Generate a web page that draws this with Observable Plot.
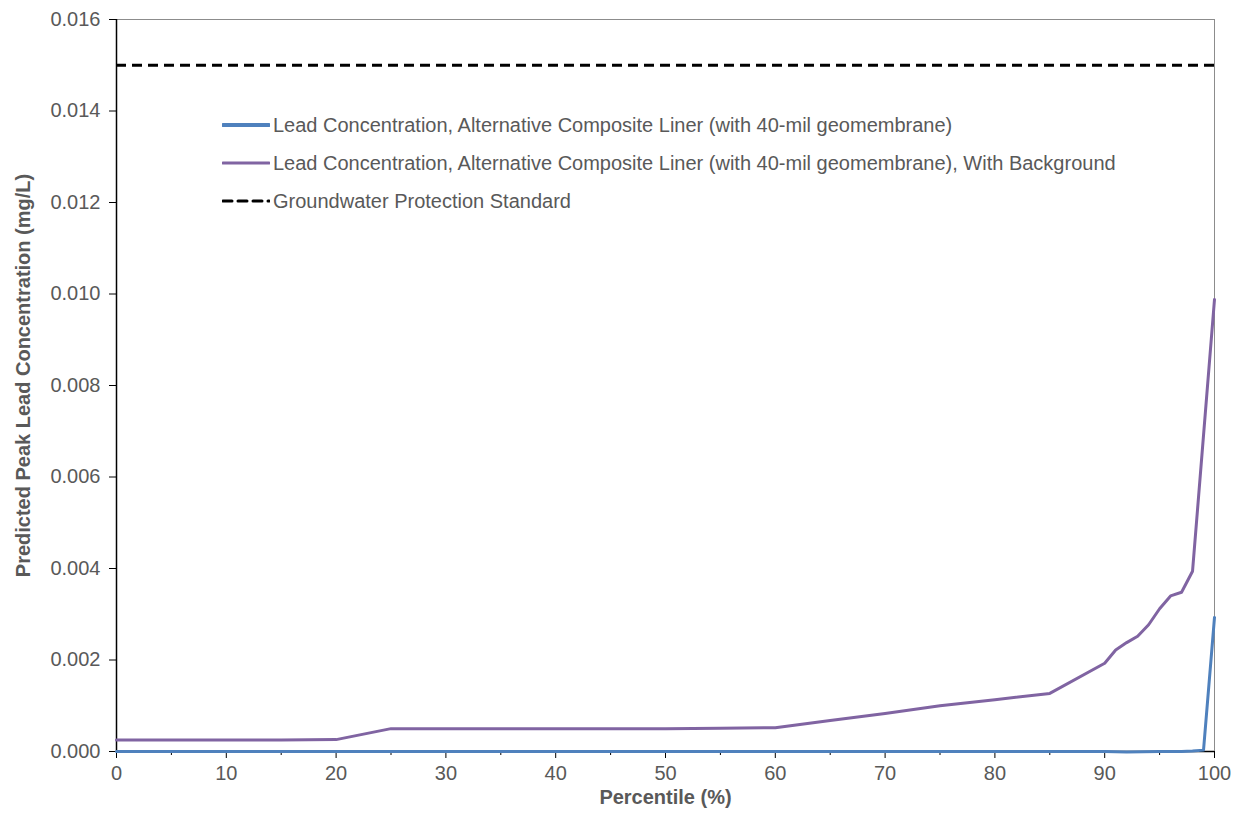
<!DOCTYPE html>
<html>
<head>
<meta charset="utf-8">
<script src="https://cdn.jsdelivr.net/npm/d3@7"></script>
<script src="https://cdn.jsdelivr.net/npm/@observablehq/plot@0.6"></script>
<style>
  html, body { margin: 0; padding: 0; background: #fff; }
  #wrap { position: relative; width: 1239px; height: 815px; font-family: "Liberation Sans", Arial, sans-serif; }
  #legend { position: absolute; left: 222px; top: 106px; color: #595959; font-size: 20px; }
  .row { display: flex; align-items: center; height: 38px; }
  .row svg { margin-right: 3px; }
</style>
</head>
<body>
<div id="wrap"></div>
<script>
// Data
const seriesBlueName = "Lead Concentration, Alternative Composite Liner (with 40-mil geomembrane)";
const seriesPurpleName = "Lead Concentration, Alternative Composite Liner (with 40-mil geomembrane), With Background";
const standardName = "Groundwater Protection Standard";

const bluePercentile = [0, 10, 20, 30, 40, 50, 60, 70, 80, 90, 92, 95, 97, 98, 99, 100];
const blueValue      = [0, 0, 0, 0, 0, 0, 0, 0, 0, 0, -0.00001, 0, 0, 0.00001, 0.00003, 0.00293];

const purplePercentile = [0, 5, 10, 15, 20, 25, 30, 35, 40, 45, 50, 55, 60, 65, 70, 75, 80, 85, 90, 91, 92, 93, 94, 95, 96, 97, 98, 100];
const purpleValue      = [0.00025, 0.00025, 0.00025, 0.00025, 0.00026, 0.00050, 0.00050, 0.00050, 0.00050, 0.00050, 0.00050, 0.00051, 0.00052, 0.00068, 0.00083, 0.00100, 0.00113, 0.00127, 0.00193, 0.00222, 0.00238, 0.00252, 0.00277, 0.00312, 0.00340, 0.00348, 0.00394, 0.00988];

const standardValue = 0.015;

const yTicks = [0, 0.002, 0.004, 0.006, 0.008, 0.010, 0.012, 0.014, 0.016];
const xMajorTicks = [0, 10, 20, 30, 40, 50, 60, 70, 80, 90, 100];
const xMinorTicks = [5, 15, 25, 35, 45, 55, 65, 75, 85, 95];

const blueColor = "#4F81BD";
const purpleColor = "#8064A2";
const textColor = "#595959";

const blueData = bluePercentile.map((p, i) => ({p, v: blueValue[i]}));
const purpleData = purplePercentile.map((p, i) => ({p, v: purpleValue[i]}));

const chart = Plot.plot({
  width: 1239,
  height: 815,
  marginLeft: 116,
  marginRight: 25,
  marginTop: 19,
  marginBottom: 64,
  style: {fontFamily: "'Liberation Sans', Arial, sans-serif", fontSize: "20px", background: "#fff", overflow: "visible"},
  x: {domain: [0, 100]},
  y: {domain: [0, 0.016]},
  marks: [
    Plot.frame({stroke: "#8c8c8c", strokeWidth: 1}),
    Plot.axisY({ticks: yTicks, tickFormat: d3.format(".3f"), tickSize: 7, tickPadding: 9, stroke: "#000", fill: textColor, label: null, fontSize: 20}),
    Plot.axisX({ticks: xMajorTicks, tickFormat: d3.format("d"), tickSize: 7, tickPadding: 7, stroke: "#000", fill: textColor, label: null, fontSize: 20}),
    Plot.axisX({ticks: xMinorTicks, tickSize: 4, text: null, stroke: "#000", label: null}),
    Plot.ruleX([0], {stroke: "#000", strokeWidth: 1.5}),
    Plot.ruleY([0], {stroke: "#000", strokeWidth: 1.5}),
    Plot.ruleY([standardValue], {stroke: "#000", strokeWidth: 3, strokeDasharray: "10,6"}),
    Plot.line(purpleData, {x: "p", y: "v", stroke: purpleColor, strokeWidth: 3}),
    Plot.line(blueData, {x: "p", y: "v", stroke: blueColor, strokeWidth: 3}),
    Plot.text(["Predicted Peak Lead Concentration (mg/L)"], {frameAnchor: "left", textAnchor: "middle", rotate: -90, dx: -93, dy: -10, fontWeight: "bold", fill: textColor, fontSize: 20}),
    Plot.text(["Percentile (%)"], {frameAnchor: "bottom", textAnchor: "middle", dy: 52, fontWeight: "bold", fill: textColor, fontSize: 20})
  ]
});

const wrap = document.getElementById("wrap");
wrap.appendChild(chart);

const legend = document.createElement("div");
legend.id = "legend";
const items = [
  {name: seriesBlueName, color: blueColor, dash: null, w: 4},
  {name: seriesPurpleName, color: purpleColor, dash: null, w: 3},
  {name: standardName, color: "#000", dash: "9,6", w: 3}
];
for (const it of items) {
  const row = document.createElement("div");
  row.className = "row";
  row.innerHTML = `<svg width="48" height="10"><line x1="1" x2="47" y1="5" y2="5" stroke="${it.color}" stroke-width="${it.w}" stroke-linecap="round" ${it.dash ? `stroke-dasharray="${it.dash}"` : ""}/></svg><span>${it.name}</span>`;
  legend.appendChild(row);
}
wrap.appendChild(legend);
</script>
</body>
</html>
